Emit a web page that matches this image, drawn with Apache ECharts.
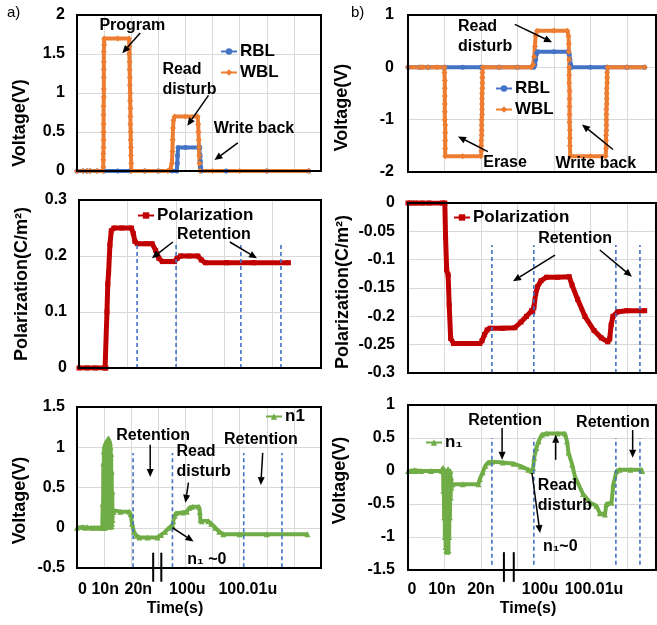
<!DOCTYPE html>
<html><head><meta charset="utf-8">
<script src="https://cdn.jsdelivr.net/npm/echarts@6/dist/echarts.min.js"></script>
<style>html,body{margin:0;padding:0;background:#fff}#c{width:657px;height:625px}</style>
</head><body><div id="c"></div>
<script>
// ---------- DATA ----------
const timeLabels = ['0', '10n', '20n', '100u', '100.01u'];
const aTickPos = [0.2, 1.04, 2.26, 4.07, 6.3];
const bTickPos = [0.11, 0.93, 2.0, 3.62, 5.1];

// panel a) top : RBL / WBL voltages
const aRBL = [[0,0],[0.22,0],[0.37,0],[0.48,0],[0.74,0],[1.0,0],[1.5,0],[1.95,0],[2.5,0],[3.0,0],[3.5,0],[3.68,0],[3.7,0.1],[3.71,0.2],[3.73,0.3],[4.0,0.3],[4.5,0.3],[4.53,0.3],[4.54,0.2],[4.55,0.12],[4.56,0.05],[4.58,0],[5.5,0],[7,0],[8.55,0]];
const aWBL = [[0,0],[0.22,0],[0.37,0],[0.48,0],[0.74,0],[0.96,0],[0.97,0.05],[0.97,0.14],[0.97,0.22],[0.98,0.3],[0.98,0.4],[0.98,0.5],[0.98,0.6],[0.98,0.72],[0.98,0.83],[0.99,0.95],[0.99,1.05],[0.99,1.2],[0.99,1.3],[0.99,1.4],[0.99,1.53],[1.0,1.62],[1.0,1.7],[1.5,1.7],[1.92,1.7],[1.93,1.6],[1.93,1.5],[1.94,1.4],[1.94,1.3],[1.95,1.2],[1.95,1.1],[1.96,1.0],[1.96,0.9],[1.97,0.8],[1.97,0.7],[1.97,0.6],[1.98,0.5],[1.98,0.4],[1.99,0.3],[1.99,0.2],[2.0,0.1],[2.0,0],[2.5,0],[3.0,0],[3.35,0],[3.45,0.03],[3.5,0.1],[3.52,0.25],[3.53,0.4],[3.54,0.55],[3.56,0.65],[3.6,0.7],[4.0,0.7],[4.45,0.7],[4.47,0.6],[4.48,0.5],[4.49,0.4],[4.5,0.3],[4.51,0.2],[4.52,0.1],[4.54,0],[5,0],[6,0],[7,0],[8.55,0]];

// panel a) middle : polarization
const aPol = [[0,0],[0.3,0],[0.6,0],[0.97,0],[1.0,0],[1.04,0.1],[1.07,0.15],[1.1,0.17],[1.15,0.22],[1.2,0.245],[1.3,0.25],[1.6,0.25],[1.95,0.25],[2.02,0.24],[2.08,0.226],[2.17,0.222],[2.5,0.222],[2.72,0.222],[2.85,0.21],[2.97,0.196],[3.1,0.19],[3.35,0.19],[3.55,0.19],[3.65,0.196],[3.78,0.2],[4.1,0.2],[4.42,0.2],[4.55,0.193],[4.7,0.188],[5.5,0.188],[6.5,0.188],[7.79,0.188]];

// panel a) bottom : n1
const aN1 = [[0,0],[0.22,0.01],[0.3,0],[0.37,0.01],[0.52,0],[0.64,0],[0.77,0],[0.93,0],[0.95,0.3],[0.96,0],[0.97,0.8],[0.98,0],[0.99,0.95],[1.0,0],[1.01,1.0],[1.02,0],[1.03,1.03],[1.04,0.02],[1.05,1.05],[1.06,0.02],[1.07,1.06],[1.08,0.02],[1.09,1.07],[1.1,0.02],[1.11,1.08],[1.12,0.02],[1.13,1.1],[1.14,0.02],[1.16,1.11],[1.17,0.02],[1.18,1.1],[1.19,0.02],[1.2,1.08],[1.21,0.02],[1.22,1.05],[1.23,0.02],[1.24,1.0],[1.25,0.02],[1.26,0.92],[1.27,0.02],[1.28,0.7],[1.29,0.05],[1.3,0.45],[1.31,0.1],[1.32,0.22],[1.35,0.2],[1.6,0.2],[1.93,0.2],[1.98,0.17],[2.03,0.05],[2.1,-0.05],[2.2,-0.1],[2.3,-0.12],[2.6,-0.12],[2.97,-0.12],[3.1,-0.09],[3.25,-0.05],[3.4,0],[3.47,0.02],[3.52,0.03],[3.55,0.08],[3.6,0.15],[3.65,0.18],[3.9,0.19],[4.05,0.2],[4.15,0.25],[4.25,0.26],[4.5,0.26],[4.53,0.2],[4.55,0.1],[4.6,0.08],[4.85,0.08],[4.95,0.05],[5.1,0],[5.25,-0.05],[5.4,-0.08],[6,-0.08],[7,-0.08],[8.5,-0.08]];

// panel b) top : RBL / WBL voltages
const bRBL = [[0,0],[0.33,0],[0.55,0],[1.0,0],[1.5,0],[2.0,0],[2.5,0],[3.0,0],[3.45,0],[3.48,0.05],[3.5,0.15],[3.52,0.25],[3.55,0.3],[4.0,0.3],[4.4,0.3],[4.42,0.25],[4.44,0.15],[4.46,0.05],[4.48,0],[5.0,0],[5.44,0],[6.0,0],[6.49,0]];
const bWBL = [[0,0],[0.33,0],[0.41,0],[0.55,0],[0.79,0],[1.0,0],[1.0,-0.1],[1.01,-0.25],[1.01,-0.4],[1.01,-0.55],[1.01,-0.7],[1.01,-0.85],[1.01,-1.0],[1.02,-1.1],[1.02,-1.25],[1.02,-1.4],[1.02,-1.55],[1.02,-1.7],[1.5,-1.7],[2.0,-1.7],[2.01,-1.6],[2.01,-1.5],[2.01,-1.4],[2.02,-1.3],[2.02,-1.2],[2.02,-1.1],[2.02,-1.0],[2.03,-0.9],[2.03,-0.8],[2.03,-0.7],[2.03,-0.6],[2.03,-0.5],[2.04,-0.4],[2.04,-0.3],[2.04,-0.2],[2.04,-0.1],[2.05,0],[2.5,0],[3.0,0],[3.38,0],[3.43,0.05],[3.46,0.2],[3.48,0.4],[3.5,0.6],[3.54,0.7],[4.0,0.7],[4.37,0.7],[4.4,0.6],[4.41,0.45],[4.41,0.3],[4.42,0.15],[4.42,0],[4.42,-0.15],[4.42,-0.3],[4.43,-0.45],[4.43,-0.6],[4.43,-0.75],[4.43,-0.9],[4.43,-1.05],[4.44,-1.2],[4.44,-1.35],[4.44,-1.5],[4.45,-1.7],[5.0,-1.7],[5.42,-1.7],[5.43,-1.55],[5.43,-1.4],[5.43,-1.3],[5.44,-1.2],[5.44,-1.1],[5.44,-1.0],[5.44,-0.9],[5.44,-0.8],[5.45,-0.7],[5.45,-0.6],[5.45,-0.5],[5.45,-0.4],[5.46,-0.3],[5.46,-0.2],[5.46,-0.1],[5.47,0],[6.0,0],[6.49,0]];

// panel b) middle : polarization
const bPol = [[0,0],[0.09,0],[0.22,0],[0.39,0],[0.58,0],[0.94,0],[1.01,0],[1.03,-0.06],[1.06,-0.118],[1.1,-0.127],[1.13,-0.18],[1.17,-0.239],[1.25,-0.248],[1.6,-0.248],[1.97,-0.248],[2.03,-0.243],[2.1,-0.232],[2.17,-0.224],[2.25,-0.221],[2.6,-0.221],[2.93,-0.22],[3.1,-0.21],[3.25,-0.2],[3.39,-0.19],[3.42,-0.192],[3.45,-0.185],[3.5,-0.16],[3.55,-0.148],[3.65,-0.137],[3.8,-0.131],[4.1,-0.131],[4.42,-0.13],[4.5,-0.145],[4.65,-0.17],[4.85,-0.2],[5.1,-0.225],[5.3,-0.238],[5.48,-0.245],[5.53,-0.24],[5.57,-0.215],[5.62,-0.2],[5.75,-0.192],[6.0,-0.19],[6.49,-0.19]];

// panel b) bottom : n1
const bN1 = [[0,0],[0.08,0],[0.18,0.01],[0.22,0],[0.36,0],[0.63,0],[0.93,0],[0.96,0.05],[0.97,-0.3],[0.98,0.03],[0.99,-0.7],[1.0,0],[1.01,-1.0],[1.02,0],[1.03,-1.15],[1.04,-0.02],[1.05,-1.2],[1.06,0],[1.07,-1.22],[1.08,-0.05],[1.09,-1.22],[1.1,0.03],[1.11,-1.2],[1.12,-0.05],[1.13,-1.0],[1.14,-0.05],[1.15,-0.7],[1.16,0],[1.17,-0.4],[1.18,-0.1],[1.19,-0.25],[1.22,-0.2],[1.5,-0.2],[1.93,-0.2],[1.97,-0.12],[2.05,-0.02],[2.12,0.08],[2.2,0.13],[2.3,0.14],[2.6,0.13],[2.9,0.11],[3.1,0.07],[3.3,0.02],[3.39,0],[3.43,0.05],[3.46,0.2],[3.52,0.35],[3.58,0.45],[3.67,0.55],[3.8,0.57],[4.1,0.57],[4.3,0.57],[4.36,0.45],[4.4,0.28],[4.5,0.1],[4.58,-0.09],[4.8,-0.35],[5.0,-0.48],[5.17,-0.53],[5.26,-0.64],[5.4,-0.66],[5.44,-0.5],[5.58,-0.48],[5.63,-0.2],[5.72,0],[5.81,0.02],[6.1,0.02],[6.4,0.02],[6.42,0]];

// annotations (data coordinates of each panel)
const notes = [
  {g:0, t:'Program', x:2.04, y:1.87, a:'center'},
  {g:0, t:'Read\ndisturb', x:3.15, y:1.17, a:'left'},
  {g:0, t:'Write back', x:5.04, y:0.55, a:'left'},
  {g:1, t:'Retention', x:5.02, y:0.2375, a:'center'},
  {g:2, t:'Retention', x:2.81, y:1.14, a:'center'},
  {g:2, t:'Retention', x:6.78, y:1.1, a:'center'},
  {g:2, t:'Read\ndisturb', x:3.67, y:0.82, a:'left'},
  {g:2, t:'n\u2081 ~0', x:4.07, y:-0.4, a:'left'},
  {g:3, t:'Read\ndisturb', x:1.37, y:0.59, a:'left'},
  {g:3, t:'Erase', x:2.66, y:-1.82, a:'center'},
  {g:3, t:'Write back', x:5.15, y:-1.84, a:'center'},
  {g:4, t:'Retention', x:4.58, y:-0.062, a:'center'},
  {g:5, t:'Retention', x:2.66, y:0.76, a:'center'},
  {g:5, t:'Retention', x:5.62, y:0.74, a:'center'},
  {g:5, t:'Read\ndisturb', x:3.56, y:-0.38, a:'left'},
  {g:5, t:'n\u2081~0', x:3.7, y:-1.15, a:'left'}
];
const arrows = [
  {g:0, f:[2.33,1.77], t:[1.67,1.51]},
  {g:0, f:[4.85,0.97], t:[4.07,0.58]},
  {g:0, f:[5.93,0.36], t:[5.07,0.14]},
  {g:1, f:[3.49,0.225], t:[2.71,0.196]},
  {g:1, f:[5.61,0.225], t:[6.62,0.196]},
  {g:2, f:[2.7,1.03], t:[2.7,0.63]},
  {g:2, f:[6.85,0.93], t:[6.78,0.53]},
  {g:2, f:[4.11,0.56], t:[4.0,0.31]},
  {g:2, f:[3.52,0], t:[4.3,-0.17]},
  {g:3, f:[2.93,0.82], t:[3.95,0.48]},
  {g:3, f:[2.19,-1.61], t:[1.37,-1.32]},
  {g:3, f:[5.62,-1.57], t:[4.77,-1.09]},
  {g:4, f:[4.03,-0.092], t:[2.88,-0.138]},
  {g:4, f:[5.26,-0.083], t:[6.14,-0.13]},
  {g:5, f:[2.58,0.65], t:[2.58,0.17]},
  {g:5, f:[6.16,0.62], t:[6.16,0.2]},
  {g:5, f:[4.05,0.17], t:[4.05,0.55]},
  {g:5, f:[3.4,-0.03], t:[3.62,-0.94]}
];
const dashes = [
  {g:1, xs:[2.16,3.61,6.02,7.51], y0:0, y1:0.22},
  {g:2, xs:[2.07,3.52,6.15,7.56], y0:-0.49, y1:0.93},
  {g:4, xs:[2.30,3.45,5.7,6.36], y0:-0.3, y1:-0.074},
  {g:5, xs:[2.30,3.45,5.7,6.36], y0:-1.42, y1:0.5}
];
const breaks = [
  {g:2, xs:[2.81,3.11], y0:-0.31, y1:-0.67},
  {g:5, xs:[2.63,2.9], y0:-1.23, y1:-1.68}
];

// ---------- STYLE ----------
const F = '"Liberation Sans", Arial, sans-serif';
const BLUE = '#4472C4', ORANGE = '#ED7D31', RED = '#C00000', GREEN = '#70AD47';
const bold = (s) => ({fontFamily:F, fontWeight:'bold', fontSize:s, color:'#000'});

const grids = [
  {left:77, top:15, width:244, height:156},
  {left:79, top:200, width:242, height:168},
  {left:77, top:407, width:244, height:161},
  {left:408, top:15, width:248, height:157},
  {left:408, top:203, width:248, height:170},
  {left:408, top:405, width:248, height:165}
].map(g => Object.assign({outerBoundsMode:'none', containLabel:false}, g));

const xCfg = [
  {max:9, interval:1}, {max:9, interval:1.8}, {max:9, interval:1, ticks:aTickPos, margin:14, pad:[0,48,0,0], gap:33},
  {max:6.8, interval:1}, {max:6.8, interval:1}, {max:6.8, interval:1, ticks:bTickPos, margin:12, pad:[0,8,0,0], gap:31}
];
const xAxis = xCfg.map((c, i) => {
  const o = {gridIndex:i, type:'value', min:0, max:c.max, interval:c.interval,
    axisLine:{show:false}, axisTick:{show:false},
    splitLine:{show:true, lineStyle:{color:'#d9d9d9', width:1}},
    axisLabel:{show:false}};
  if (c.ticks) {
    const tp = c.ticks;
    o.axisLabel = Object.assign(bold(16), {show:true, margin:c.margin, customValues:tp,
      formatter:(v) => { const k = tp.findIndex(p => Math.abs(p - v) < 1e-6); return k >= 0 ? timeLabels[k] : ''; }});
    o.name = 'Time(s)'; o.nameLocation = 'middle'; o.nameGap = c.gap;
    o.nameTextStyle = Object.assign(bold(16), {padding:c.pad});
  }
  return o;
});

const yCfg = [
  {min:0, max:2, interval:0.5, name:'Voltage(V)', gap:48, pad:[0,60,0,0], m:12},
  {min:0, max:0.3, interval:0.1, name:'Polarization(C/m\u00B2)', gap:48, pad:[0,0,0,0], m:12},
  {min:-0.5, max:1.5, interval:0.5, name:'Voltage(V)', gap:48, pad:[0,26,0,0], m:12},
  {min:-2, max:1, interval:1, name:'Voltage(V)', gap:57, pad:[0,28,0,0], m:14},
  {min:-0.3, max:0, interval:0.05, name:'Polarization(C/m\u00B2)', gap:56, pad:[0,8,0,0], m:13},
  {min:-1.5, max:1, interval:0.5, name:'Voltage(V)', gap:59, pad:[0,0,0,14], m:13}
];
const yAxis = yCfg.map((c, i) => ({gridIndex:i, type:'value', min:c.min, max:c.max, interval:c.interval,
  axisLine:{show:false}, axisTick:{show:false},
  splitLine:{show:true, lineStyle:{color:'#d9d9d9', width:1}},
  axisLabel:Object.assign(bold(16), {margin:c.m}),
  name:c.name, nameLocation:'middle', nameGap:c.gap, nameRotate:90,
  nameTextStyle:Object.assign(bold(18), {padding:c.pad})}));

function line(name, idx, data, color, symbol, size, width) {
  return {type:'line', name, xAxisIndex:idx, yAxisIndex:idx, data, symbol, symbolSize:size,
    showSymbol:true, showAllSymbol:true, animation:false, silent:true,
    lineStyle:{color, width}, itemStyle:{color}};
}
const series = [
  line('RBL', 0, aRBL, BLUE, 'circle', 5, 4),
  line('WBL', 0, aWBL, ORANGE, 'diamond', 6, 4),
  line('Polarization', 1, aPol, RED, 'rect', 5, 5),
  line('n1', 2, aN1, GREEN, 'triangle', 6, 4),
  line('RBL', 3, bRBL, BLUE, 'circle', 5, 4),
  line('WBL', 3, bWBL, ORANGE, 'diamond', 6, 4),
  line('Polarization', 4, bPol, RED, 'rect', 5, 5),
  line('n\u2081', 5, bN1, GREEN, 'triangle', 6, 4)
];

const lg = (data, left, top) => ({data, left, top, orient:'vertical', itemGap:4, itemWidth:16, itemHeight:8,
  selectedMode:false, padding:0, textStyle:Object.assign(bold(17), {padding:[0,0,0,-2]}),
  lineStyle:{width:2}, itemStyle:{borderWidth:0}});
const legend = [
  lg(['RBL','WBL'], 220, 43),
  lg(['Polarization'], 137, 207),
  lg(['n1'], 265, 408),
  lg(['RBL','WBL'], 495, 80),
  lg(['Polarization'], 453, 209),
  lg(['n\u2081'], 425, 434)
];

const chart = echarts.init(document.getElementById('c'));
chart.setOption({animation:false, backgroundColor:'#fff', grid:grids, xAxis, yAxis, series, legend});

// ---------- overlays built from data coordinates ----------
const P = (g, pt) => chart.convertToPixel({gridIndex:g}, pt);
const gfx = [];
// frames
grids.forEach((g, i) => {
  const p0 = P(i, [0, yCfg[i].max]);
  const p1 = P(i, [xCfg[i].max, yCfg[i].min]);
  gfx.push({type:'rect', z:100, silent:true, shape:{x:p0[0], y:p0[1], width:p1[0]-p0[0], height:p1[1]-p0[1]},
    style:{fill:null, stroke:'#000', lineWidth:2}});
});
dashes.forEach(d => d.xs.forEach(x => {
  const a = P(d.g, [x, d.y0]), b = P(d.g, [x, d.y1]);
  gfx.push({type:'line', z:90, silent:true, shape:{x1:a[0], y1:a[1], x2:b[0], y2:b[1]},
    style:{stroke:BLUE, lineWidth:1.6, lineDash:[4,3]}});
}));
breaks.forEach(d => d.xs.forEach(x => {
  const a = P(d.g, [x, d.y0]), b = P(d.g, [x, d.y1]);
  gfx.push({type:'line', z:110, silent:true, shape:{x1:a[0], y1:a[1], x2:b[0], y2:b[1]},
    style:{stroke:'#000', lineWidth:2}});
}));
arrows.forEach(r => {
  const a = P(r.g, r.f), b = P(r.g, r.t);
  const dx = b[0]-a[0], dy = b[1]-a[1], L = Math.hypot(dx, dy), ux = dx/L, uy = dy/L;
  const hl = 8, hw = 3.5;
  const bx = b[0]-ux*hl, by = b[1]-uy*hl;
  gfx.push({type:'line', z:120, silent:true, shape:{x1:a[0], y1:a[1], x2:bx, y2:by},
    style:{stroke:'#000', lineWidth:1.5}});
  gfx.push({type:'polygon', z:120, silent:true, shape:{points:[[b[0],b[1]],[bx-uy*hw, by+ux*hw],[bx+uy*hw, by-ux*hw]]},
    style:{fill:'#000'}});
});
notes.forEach(n => {
  const p = P(n.g, [n.x, n.y]);
  gfx.push({type:'text', z:130, silent:true, x:p[0], y:p[1],
    style:{text:n.t, fill:'#000', font:'bold 16px ' + F, align:n.a, verticalAlign:'middle', lineHeight:20}});
});
gfx.push({type:'text', z:130, silent:true, x:7, y:13, style:{text:'a)', fill:'#000', font:'15px ' + F, verticalAlign:'middle'}});
gfx.push({type:'text', z:130, silent:true, x:351, y:13, style:{text:'b)', fill:'#000', font:'15px ' + F, verticalAlign:'middle'}});
chart.setOption({graphic:{elements:gfx}});
</script>
</body></html>
